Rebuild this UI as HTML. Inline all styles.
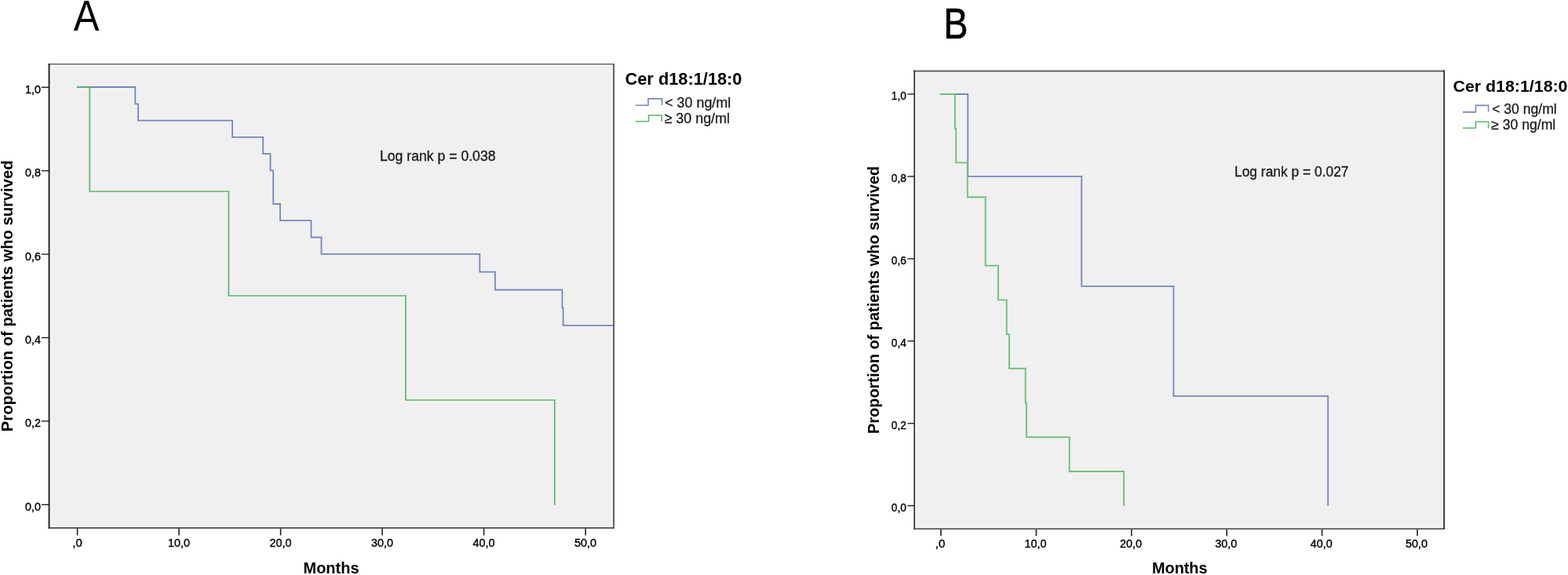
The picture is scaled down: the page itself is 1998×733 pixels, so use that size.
<!DOCTYPE html>
<html><head><meta charset="utf-8"><title>Kaplan-Meier survival curves</title>
<style>html,body{margin:0;padding:0;background:#fff;width:1998px;height:733px;overflow:hidden}svg{display:block}</style>
</head><body>
<svg width="1998" height="733" viewBox="0 0 1998 733">
<rect width="1998" height="733" fill="#fff"/>
<g font-family="Liberation Sans, sans-serif">
<text x="93.7" y="38.5" font-size="55.6" font-weight="normal" text-anchor="start" fill="#000" textLength="32.8" lengthAdjust="spacingAndGlyphs">A</text>
<text x="1202.3" y="48.9" font-size="55.2" font-weight="normal" text-anchor="start" fill="#000" textLength="31.2" lengthAdjust="spacingAndGlyphs" stroke="#000" stroke-width="0.6">B</text>
<rect x="65.2" y="84.0" width="714.1999999999999" height="586.7" fill="#f0f0f0"/>
<line x1="61.5" y1="81.7" x2="783.1" y2="81.7" stroke="#666" stroke-width="1.6"/>
<line x1="61.5" y1="673.0" x2="783.1" y2="673.0" stroke="#2a2a2a" stroke-width="1.6"/>
<line x1="62.6" y1="80.9" x2="62.6" y2="673.8" stroke="#333" stroke-width="2.2"/>
<line x1="782.0" y1="80.9" x2="782.0" y2="673.8" stroke="#666" stroke-width="2.2"/>
<line x1="52.9" y1="111.3" x2="62" y2="111.3" stroke="#111" stroke-width="1.3"/>
<text x="52.0" y="118.7" font-size="15" font-weight="normal" text-anchor="end" fill="#000" textLength="19.9" lengthAdjust="spacingAndGlyphs" stroke="#000" stroke-width="0.4">1,0</text>
<line x1="52.9" y1="217.7" x2="62" y2="217.7" stroke="#111" stroke-width="1.3"/>
<text x="52.0" y="225.1" font-size="15" font-weight="normal" text-anchor="end" fill="#000" textLength="19.9" lengthAdjust="spacingAndGlyphs" stroke="#000" stroke-width="0.4">0,8</text>
<line x1="52.9" y1="324.1" x2="62" y2="324.1" stroke="#111" stroke-width="1.3"/>
<text x="52.0" y="331.5" font-size="15" font-weight="normal" text-anchor="end" fill="#000" textLength="19.9" lengthAdjust="spacingAndGlyphs" stroke="#000" stroke-width="0.4">0,6</text>
<line x1="52.9" y1="430.5" x2="62" y2="430.5" stroke="#111" stroke-width="1.3"/>
<text x="52.0" y="437.9" font-size="15" font-weight="normal" text-anchor="end" fill="#000" textLength="19.9" lengthAdjust="spacingAndGlyphs" stroke="#000" stroke-width="0.4">0,4</text>
<line x1="52.9" y1="536.9" x2="62" y2="536.9" stroke="#111" stroke-width="1.3"/>
<text x="52.0" y="544.3" font-size="15" font-weight="normal" text-anchor="end" fill="#000" textLength="19.9" lengthAdjust="spacingAndGlyphs" stroke="#000" stroke-width="0.4">0,2</text>
<line x1="52.9" y1="643.3" x2="62" y2="643.3" stroke="#111" stroke-width="1.3"/>
<text x="52.0" y="650.7" font-size="15" font-weight="normal" text-anchor="end" fill="#000" textLength="19.9" lengthAdjust="spacingAndGlyphs" stroke="#000" stroke-width="0.4">0,0</text>
<line x1="98.6" y1="674" x2="98.6" y2="682.5" stroke="#222" stroke-width="1.6"/>
<text x="98.6" y="696.7" font-size="15" font-weight="normal" text-anchor="middle" fill="#000" stroke="#000" stroke-width="0.4">,0</text>
<line x1="228.1" y1="674" x2="228.1" y2="682.5" stroke="#222" stroke-width="1.6"/>
<text x="228.1" y="696.7" font-size="15" font-weight="normal" text-anchor="middle" fill="#000" textLength="28.0" lengthAdjust="spacingAndGlyphs" stroke="#000" stroke-width="0.4">10,0</text>
<line x1="357.6" y1="674" x2="357.6" y2="682.5" stroke="#222" stroke-width="1.6"/>
<text x="357.6" y="696.7" font-size="15" font-weight="normal" text-anchor="middle" fill="#000" textLength="28.0" lengthAdjust="spacingAndGlyphs" stroke="#000" stroke-width="0.4">20,0</text>
<line x1="487.1" y1="674" x2="487.1" y2="682.5" stroke="#222" stroke-width="1.6"/>
<text x="487.1" y="696.7" font-size="15" font-weight="normal" text-anchor="middle" fill="#000" textLength="28.0" lengthAdjust="spacingAndGlyphs" stroke="#000" stroke-width="0.4">30,0</text>
<line x1="616.6" y1="674" x2="616.6" y2="682.5" stroke="#222" stroke-width="1.6"/>
<text x="616.6" y="696.7" font-size="15" font-weight="normal" text-anchor="middle" fill="#000" textLength="28.0" lengthAdjust="spacingAndGlyphs" stroke="#000" stroke-width="0.4">40,0</text>
<line x1="746.1" y1="674" x2="746.1" y2="682.5" stroke="#222" stroke-width="1.6"/>
<text x="746.1" y="696.7" font-size="15" font-weight="normal" text-anchor="middle" fill="#000" textLength="28.0" lengthAdjust="spacingAndGlyphs" stroke="#000" stroke-width="0.4">50,0</text>
<polyline points="97.9,111.0 172.3,111.0 172.3,132.3 176.0,132.3 176.0,153.6 296.1,153.6 296.1,174.8 335.2,174.8 335.2,196.1 344.5,196.1 344.5,217.4 348.2,217.4 348.2,260.0 357.0,260.0 357.0,281.2 396.5,281.2 396.5,302.5 409.5,302.5 409.5,323.8 611.3,323.8 611.3,346.6 630.9,346.6 630.9,369.5 716.4,369.5 716.4,392.3 717.6,392.3 717.6,414.9 781.0,414.9" fill="none" stroke="#7386c1" stroke-width="1.8" stroke-linejoin="miter" stroke-linecap="butt"/>
<polyline points="97.9,111.0 114.3,111.0 114.3,244.0 291.4,244.0 291.4,377.0 516.9,377.0 516.9,510.0 706.8,510.0 706.8,644.0" fill="none" stroke="#58b868" stroke-width="1.7" stroke-linejoin="miter" stroke-linecap="butt"/>
<text x="484.0" y="204.7" font-size="19.0" font-weight="normal" text-anchor="start" fill="#1a1a1a" textLength="147.5" lengthAdjust="spacingAndGlyphs" stroke="#1a1a1a" stroke-width="0.35">Log rank p = 0.038</text>
<text x="0" y="0" font-size="20.5" font-weight="bold" text-anchor="middle" fill="#000" textLength="345.7" lengthAdjust="spacingAndGlyphs" transform="translate(16.3,377.3) rotate(-90)">Proportion of patients who survived</text>
<text x="386.5" y="730.8" font-size="20.5" font-weight="bold" text-anchor="start" fill="#000" textLength="71.0" lengthAdjust="spacingAndGlyphs">Months</text>
<text x="796.5" y="108.0" font-size="21.5" font-weight="bold" text-anchor="start" fill="#000" textLength="149.0" lengthAdjust="spacingAndGlyphs">Cer d18:1/18:0</text>
<polyline points="809.6,134.3 826,134.3 826,125.9 843.5,125.9 843.5,134" fill="none" stroke="#7386c1" stroke-width="1.6"/>
<polyline points="809.6,154.8 826.5,154.8 826.5,147 843.2,147 843.2,154.8" fill="none" stroke="#58b868" stroke-width="1.6"/>
<text x="847.2" y="136.5" font-size="18.6" font-weight="normal" text-anchor="start" fill="#1a1a1a" textLength="84.0" lengthAdjust="spacingAndGlyphs" stroke="#1a1a1a" stroke-width="0.3">&lt; 30 ng/ml</text>
<text x="846.5" y="157.0" font-size="18.6" font-weight="normal" text-anchor="start" fill="#1a1a1a" textLength="83.5" lengthAdjust="spacingAndGlyphs" stroke="#1a1a1a" stroke-width="0.3">&#8805; 30 ng/ml</text>
<rect x="1167.1000000000001" y="92.8" width="671.0999999999999" height="579.75" fill="#f0f0f0"/>
<line x1="1164.3" y1="90.6" x2="1841.0" y2="90.6" stroke="#6c6c6c" stroke-width="2.4"/>
<line x1="1164.3" y1="674.2" x2="1841.0" y2="674.2" stroke="#151515" stroke-width="1.3"/>
<line x1="1165.2" y1="89.39999999999999" x2="1165.2" y2="674.85" stroke="#383838" stroke-width="1.8"/>
<line x1="1840.1" y1="89.39999999999999" x2="1840.1" y2="674.85" stroke="#2e2e2e" stroke-width="1.8"/>
<line x1="1156.4" y1="120.0" x2="1165" y2="120.0" stroke="#111" stroke-width="1.3"/>
<text x="1154.8" y="127.2" font-size="15" font-weight="normal" text-anchor="end" fill="#000" textLength="19.0" lengthAdjust="spacingAndGlyphs" stroke="#000" stroke-width="0.4">1,0</text>
<line x1="1156.4" y1="224.9" x2="1165" y2="224.9" stroke="#111" stroke-width="1.3"/>
<text x="1154.8" y="232.1" font-size="15" font-weight="normal" text-anchor="end" fill="#000" textLength="19.0" lengthAdjust="spacingAndGlyphs" stroke="#000" stroke-width="0.4">0,8</text>
<line x1="1156.4" y1="329.9" x2="1165" y2="329.9" stroke="#111" stroke-width="1.3"/>
<text x="1154.8" y="337.1" font-size="15" font-weight="normal" text-anchor="end" fill="#000" textLength="19.0" lengthAdjust="spacingAndGlyphs" stroke="#000" stroke-width="0.4">0,6</text>
<line x1="1156.4" y1="434.8" x2="1165" y2="434.8" stroke="#111" stroke-width="1.3"/>
<text x="1154.8" y="442.0" font-size="15" font-weight="normal" text-anchor="end" fill="#000" textLength="19.0" lengthAdjust="spacingAndGlyphs" stroke="#000" stroke-width="0.4">0,4</text>
<line x1="1156.4" y1="539.8" x2="1165" y2="539.8" stroke="#111" stroke-width="1.3"/>
<text x="1154.8" y="547.0" font-size="15" font-weight="normal" text-anchor="end" fill="#000" textLength="19.0" lengthAdjust="spacingAndGlyphs" stroke="#000" stroke-width="0.4">0,2</text>
<line x1="1156.4" y1="644.7" x2="1165" y2="644.7" stroke="#111" stroke-width="1.3"/>
<text x="1154.8" y="651.9" font-size="15" font-weight="normal" text-anchor="end" fill="#000" textLength="19.0" lengthAdjust="spacingAndGlyphs" stroke="#000" stroke-width="0.4">0,0</text>
<line x1="1199.0" y1="675" x2="1199.0" y2="683.2" stroke="#222" stroke-width="1.6"/>
<text x="1198.1" y="697.5" font-size="15" font-weight="normal" text-anchor="middle" fill="#000" stroke="#000" stroke-width="0.4">,0</text>
<line x1="1320.4" y1="675" x2="1320.4" y2="683.2" stroke="#222" stroke-width="1.6"/>
<text x="1319.5" y="697.5" font-size="15" font-weight="normal" text-anchor="middle" fill="#000" textLength="28.0" lengthAdjust="spacingAndGlyphs" stroke="#000" stroke-width="0.4">10,0</text>
<line x1="1441.8" y1="675" x2="1441.8" y2="683.2" stroke="#222" stroke-width="1.6"/>
<text x="1440.9" y="697.5" font-size="15" font-weight="normal" text-anchor="middle" fill="#000" textLength="28.0" lengthAdjust="spacingAndGlyphs" stroke="#000" stroke-width="0.4">20,0</text>
<line x1="1563.2" y1="675" x2="1563.2" y2="683.2" stroke="#222" stroke-width="1.6"/>
<text x="1562.3" y="697.5" font-size="15" font-weight="normal" text-anchor="middle" fill="#000" textLength="28.0" lengthAdjust="spacingAndGlyphs" stroke="#000" stroke-width="0.4">30,0</text>
<line x1="1684.6" y1="675" x2="1684.6" y2="683.2" stroke="#222" stroke-width="1.6"/>
<text x="1683.7" y="697.5" font-size="15" font-weight="normal" text-anchor="middle" fill="#000" textLength="28.0" lengthAdjust="spacingAndGlyphs" stroke="#000" stroke-width="0.4">40,0</text>
<line x1="1806.0" y1="675" x2="1806.0" y2="683.2" stroke="#222" stroke-width="1.6"/>
<text x="1805.1" y="697.5" font-size="15" font-weight="normal" text-anchor="middle" fill="#000" textLength="28.0" lengthAdjust="spacingAndGlyphs" stroke="#000" stroke-width="0.4">50,0</text>
<polyline points="1197.9,120.0 1233.3,120.0 1233.3,224.9 1378.2,224.9 1378.2,364.9 1495.4,364.9 1495.4,504.8 1692.2,504.8 1692.2,645.0" fill="none" stroke="#7386c1" stroke-width="1.8" stroke-linecap="butt"/>
<polyline points="1197.9,120.0 1216.9,120.0 1216.9,163.7 1218.2,163.7 1218.2,207.4 1232.8,207.4 1232.8,251.2 1255.7,251.2 1255.7,338.6 1271.9,338.6 1271.9,382.4 1282.7,382.4 1282.7,426.1 1286.0,426.1 1286.0,469.8 1306.7,469.8 1306.7,513.5 1307.9,513.5 1307.9,557.2 1362.7,557.2 1362.7,601.0 1432.1,601.0 1432.1,645.0" fill="none" stroke="#6cc27b" stroke-width="1.9" stroke-linecap="butt"/>
<text x="1573.0" y="224.5" font-size="19.0" font-weight="normal" text-anchor="start" fill="#1a1a1a" textLength="145.5" lengthAdjust="spacingAndGlyphs" stroke="#1a1a1a" stroke-width="0.35">Log rank p = 0.027</text>
<text x="0" y="0" font-size="20.5" font-weight="bold" text-anchor="middle" fill="#000" textLength="341.2" lengthAdjust="spacingAndGlyphs" transform="translate(1120.3,382.4) rotate(-90)">Proportion of patients who survived</text>
<text x="1468.0" y="730.8" font-size="20.5" font-weight="bold" text-anchor="start" fill="#000" textLength="70.5" lengthAdjust="spacingAndGlyphs">Months</text>
<text x="1851.5" y="116.5" font-size="21.0" font-weight="bold" text-anchor="start" fill="#000" textLength="146.0" lengthAdjust="spacingAndGlyphs">Cer d18:1/18:0</text>
<polyline points="1864,142.9 1880.4,142.9 1880.4,134.4 1896.6,134.4 1896.6,142.6" fill="none" stroke="#7386c1" stroke-width="1.6"/>
<polyline points="1864,163.3 1880.4,163.3 1880.4,155.2 1896.6,155.2 1896.6,163.4" fill="none" stroke="#58b868" stroke-width="1.6"/>
<text x="1901.2" y="144.8" font-size="18.0" font-weight="normal" text-anchor="start" fill="#1a1a1a" textLength="82.5" lengthAdjust="spacingAndGlyphs" stroke="#1a1a1a" stroke-width="0.3">&lt; 30 ng/ml</text>
<text x="1900.2" y="164.9" font-size="18.0" font-weight="normal" text-anchor="start" fill="#1a1a1a" textLength="82.0" lengthAdjust="spacingAndGlyphs" stroke="#1a1a1a" stroke-width="0.3">&#8805; 30 ng/ml</text>
</g>
</svg>
</body></html>
